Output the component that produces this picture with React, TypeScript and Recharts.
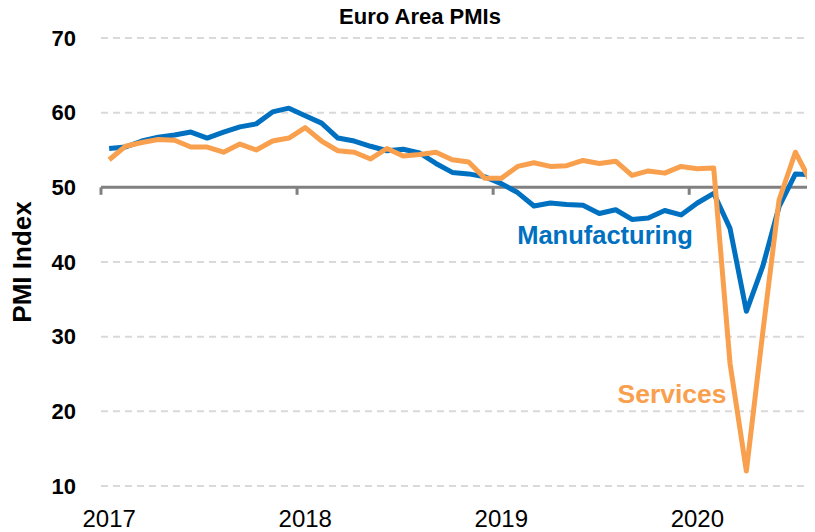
import React from 'react'
import { CartesianGrid, Label, Line, LineChart, ReferenceLine, XAxis, YAxis } from 'recharts'

// monthly, Jan 2017 - Aug 2020
const months = [
    '2017-01', '2017-02', '2017-03', '2017-04', '2017-05', '2017-06', '2017-07', '2017-08', '2017-09', '2017-10', '2017-11', '2017-12',
    '2018-01', '2018-02', '2018-03', '2018-04', '2018-05', '2018-06', '2018-07', '2018-08', '2018-09', '2018-10', '2018-11', '2018-12',
    '2019-01', '2019-02', '2019-03', '2019-04', '2019-05', '2019-06', '2019-07', '2019-08', '2019-09', '2019-10', '2019-11', '2019-12',
    '2020-01', '2020-02', '2020-03', '2020-04', '2020-05', '2020-06', '2020-07', '2020-08',
]

const manufacturing = [
    55.2, 55.4, 56.2, 56.7, 57.0, 57.4, 56.6, 57.4, 58.1, 58.5, 60.1, 60.6,
    59.6, 58.6, 56.6, 56.2, 55.5, 54.9, 55.1, 54.6, 53.2, 52.0, 51.8, 51.4,
    50.5, 49.3, 47.5, 47.9, 47.7, 47.6, 46.5, 47.0, 45.7, 45.9, 46.9, 46.3,
    47.9, 49.2, 44.5, 33.4, 39.4, 47.4, 51.8, 51.7,
]

const services = [
    53.7, 55.5, 56.0, 56.4, 56.3, 55.4, 55.4, 54.7, 55.8, 55.0, 56.2, 56.6,
    58.0, 56.2, 54.9, 54.7, 53.8, 55.2, 54.2, 54.4, 54.7, 53.7, 53.4, 51.2,
    51.2, 52.8, 53.3, 52.8, 52.9, 53.6, 53.2, 53.5, 51.6, 52.2, 51.9, 52.8,
    52.5, 52.6, 26.4, 12.0, 30.5, 48.3, 54.7, 50.5,
]

const yearTicks = [0, 12, 24, 36]
const yearLabels = ['2017', '2018', '2019', '2020']
const yearBreaks = [-0.5, 11.5, 23.5, 35.5]
const valueTicks = [10, 20, 30, 40, 50, 60, 70]

const data = months.map((m, i) => ({ idx: i, month: m, manufacturing: manufacturing[i], services: services[i] }))

const font = '"Liberation Sans", Arial, sans-serif'

export default function App() {
    return (
        // pull the chart into the page corner so the title isn't clipped
        <div style={{ margin: '-8px 0 0 -8px', width: 815, height: 532 }}>
            <LineChart width={815} height={532} data={data} margin={{ top: 38, right: 0, bottom: 0, left: 0 }}>
                <CartesianGrid vertical={false} stroke="#D9D9D9" strokeDasharray="7 5" strokeWidth={2} />
                <XAxis
                    dataKey="idx"
                    type="number"
                    domain={[-0.5, 43.2]}
                    ticks={yearTicks}
                    interval={0}
                    tickFormatter={(v) => yearLabels[yearTicks.indexOf(v)]}
                    axisLine={false}
                    tickLine={false}
                    tickSize={0}
                    tickMargin={24}
                    height={46}
                    tick={{ fill: '#000', fontSize: 24, fontFamily: font }}
                />
                <YAxis
                    domain={[10, 70]}
                    ticks={valueTicks}
                    interval={0}
                    width={101}
                    axisLine={false}
                    tickLine={false}
                    tickSize={0}
                    tickMargin={25}
                    tick={{ fill: '#000', fontSize: 22, fontWeight: 'bold', fontFamily: font }}
                >
                    <Label
                        content={() => (
                            <text x={31} y={262} transform="rotate(-90 31 262)" textAnchor="middle" fill="#000"
                                style={{ fontSize: 26, fontWeight: 'bold', fontFamily: font }}>
                                PMI Index
                            </text>
                        )}
                    />
                </YAxis>
                <ReferenceLine y={50} stroke="#808080" strokeWidth={3} />
                {yearBreaks.map((b) => (
                    <ReferenceLine key={b} segment={[{ x: b, y: 50 }, { x: b, y: 49 }]} stroke="#808080" strokeWidth={3} />
                ))}
                <Line dataKey="manufacturing" stroke="#0070C0" strokeWidth={5} dot={false} strokeLinejoin="round" isAnimationActive={false} />
                <Line dataKey="services" stroke="#F9A04E" strokeWidth={5} dot={false} strokeLinejoin="round" isAnimationActive={false} />
                <text x={420} y={24} textAnchor="middle" fill="#000" style={{ fontSize: 22, fontWeight: 'bold', fontFamily: font }}>
                    Euro Area PMIs
                </text>
                <text x={605} y={244} textAnchor="middle" fill="#0070C0" style={{ fontSize: 25.5, fontWeight: 'bold', fontFamily: font }}>
                    Manufacturing
                </text>
                <text x={672} y={403} textAnchor="middle" fill="#F9A04E" style={{ fontSize: 26.5, fontWeight: 'bold', fontFamily: font }}>
                    Services
                </text>
            </LineChart>
        </div>
    )
}
